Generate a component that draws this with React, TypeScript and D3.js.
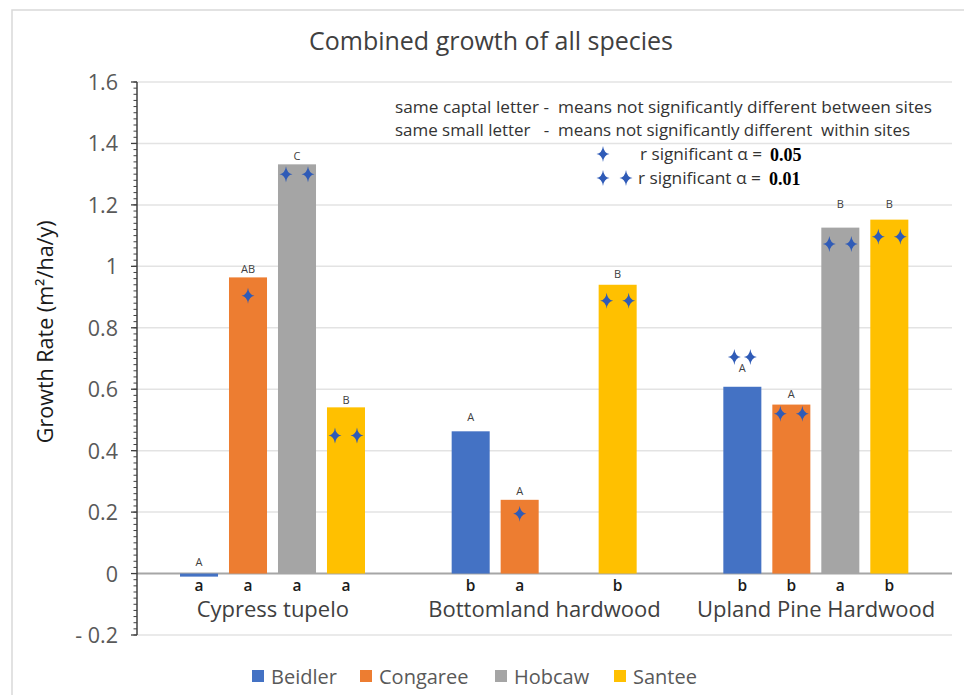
import React from "react";
import * as d3 from "d3";

const groups = ["Cypress tupelo", "Bottomland hardwood", "Upland Pine Hardwood"];
const sites = ["Beidler", "Congaree", "Hobcaw", "Santee"];
const colors = ["#4472c4", "#ed7d31", "#a5a5a5", "#ffc000"];

// values per site, by group
const beidler = [-0.01, 0.463, 0.608];
const congaree = [0.964, 0.24, 0.55];
const hobcaw: (number | null)[] = [1.332, null, 1.126];
const santee = [0.541, 0.94, 1.152];

// capital letters (between sites) per site, by group
const capBeidler = ["A", "A", "A"];
const capCongaree = ["AB", "A", "A"];
const capHobcaw = ["C", "", "B"];
const capSantee = ["B", "B", "B"];
// y-value where the capital letter sits
const capYBeidler = [0.037, 0.51, 0.668];
const capYCongaree = [0.992, 0.27, 0.585];
const capYHobcaw = [1.36, 0, 1.203];
const capYSantee = [0.566, 0.976, 1.203];

// small letters (within sites)
const smallBeidler = ["a", "b", "b"];
const smallCongaree = ["a", "a", "b"];
const smallHobcaw = ["a", "", "a"];
const smallSantee = ["a", "b", "b"];

// number of significance crosses and their y-value
const crossBeidler = [0, 0, 2];
const crossCongaree = [1, 1, 2];
const crossHobcaw = [2, 0, 2];
const crossSantee = [2, 2, 2];
const crossYBeidler = [0, 0, 0.705];
const crossYCongaree = [0.904, 0.195, 0.52];
const crossYHobcaw = [1.3, 0, 1.073];
const crossYSantee = [0.449, 0.888, 1.096];

const yTicks = [-0.2, 0, 0.2, 0.4, 0.6, 0.8, 1, 1.2, 1.4, 1.6];
const yTickLabels = ["- 0.2", "0", "0.2", "0.4", "0.6", "0.8", "1", "1.2", "1.4", "1.6"];

const values = [beidler, congaree, hobcaw, santee];
const caps = [capBeidler, capCongaree, capHobcaw, capSantee];
const capYs = [capYBeidler, capYCongaree, capYHobcaw, capYSantee];
const smalls = [smallBeidler, smallCongaree, smallHobcaw, smallSantee];
const crosses = [crossBeidler, crossCongaree, crossHobcaw, crossSantee];
const crossYs = [crossYBeidler, crossYCongaree, crossYHobcaw, crossYSantee];

const FONT = "'Open Sans', 'Noto Sans', sans-serif";
const SERIF = "'Liberation Serif', 'DejaVu Serif', serif";
const CROSS = "#2f5bb7";
const starPath = "M0,-8 Q0.9,-0.9 6.5,0 Q0.9,0.9 0,8 Q-0.9,0.9 -6.5,0 Q-0.9,-0.9 0,-8 Z";

const Star = ({ x, y }: { x: number; y: number }) => (
  <path d={starPath} transform={`translate(${x},${y})`} fill={CROSS} />
);

export default function App() {
  const W = 964, H = 695;
  const left = 137, right = 952;
  const y = d3.scaleLinear().domain([-0.2, 1.6]).range([635, 82]);
  const x0 = d3.scaleBand<string>().domain(groups).range([left, right]);
  const x1 = d3.scaleBand<string>().domain(sites).range([43, 228]).paddingInner(0.224);
  const bw = x1.bandwidth();
  const minor = d3.range(-0.2, 1.6001, 0.02);

  const legendX = [252, 360, 495, 614];

  return (
    <svg width={W} height={H} style={{ position: "absolute", left: 0, top: 0, background: "#fff" }}>
      <rect x={12} y={10} width={W} height={H} fill="#fff" stroke="#d9d9d9" strokeWidth={1.5} />
      <text x={491} y={50} textAnchor="middle" fontFamily={FONT} fontSize={25} fill="#404040">
        Combined growth of all species
      </text>

      {/* gridlines */}
      {yTicks.map((t) => (
        <line key={t} x1={left} x2={right} y1={y(t)} y2={y(t)}
          stroke={t === 0 ? "#a6a6a6" : "#e3e3e3"} strokeWidth={t === 0 ? 2 : 1.5} />
      ))}

      {/* axis */}
      <line x1={left} x2={left} y1={y(-0.2)} y2={y(1.6)} stroke="#404040" strokeWidth={1.5} />
      {minor.map((t, i) => (
        <line key={i} x1={left - 3.5} x2={left} y1={y(t)} y2={y(t)} stroke="#404040" strokeWidth={1} />
      ))}
      {yTicks.map((t) => (
        <line key={"m" + t} x1={left - 6} x2={left} y1={y(t)} y2={y(t)} stroke="#404040" strokeWidth={1.3} />
      ))}
      {yTicks.map((t, i) => (
        <text key={"l" + t} x={118} y={y(t) + 8} textAnchor="end" fontFamily={FONT} fontSize={21.5} fill="#595959">
          {yTickLabels[i]}
        </text>
      ))}
      <text transform={`translate(53,${y(0.8) + 4}) rotate(-90)`} textAnchor="middle" fontFamily={FONT}
        fontSize={21.5} fill="#1a1a1a">
        Growth Rate (m²/ha/y)
      </text>

      {/* bars */}
      {groups.map((g, gi) => (
        <g key={g} transform={`translate(${x0(g)},0)`}>
          {sites.map((s, si) => {
            const v = values[si][gi];
            if (v === null || v === undefined) return null;
            const bx = x1(s)!;
            const cx = bx + bw / 2;
            const n = crosses[si][gi];
            const spread = si === 0 && gi === 2 ? 8 : 11;
            return (
              <g key={s}>
                <rect x={bx} width={bw} y={Math.min(y(v), y(0))} height={Math.max(Math.abs(y(v) - y(0)), 2.5)}
                  fill={colors[si]} />
                {caps[si][gi] && (
                  <text x={cx} y={y(capYs[si][gi]) + 4} textAnchor="middle" fontFamily={FONT} fontSize={11}
                    fontWeight={500} fill="#404040">{caps[si][gi]}</text>
                )}
                {smalls[si][gi] && (
                  <text x={cx} y={y(0) + 17} textAnchor="middle" fontFamily={FONT} fontSize={15.5}
                    fontWeight={600} fill="#1a1a1a">{smalls[si][gi]}</text>
                )}
                {n === 1 && <Star x={cx} y={y(crossYs[si][gi])} />}
                {n === 2 && (
                  <>
                    <Star x={cx - spread} y={y(crossYs[si][gi])} />
                    <Star x={cx + spread} y={y(crossYs[si][gi])} />
                  </>
                )}
              </g>
            );
          })}
          <text x={x0.bandwidth() / 2} y={y(0) + 43} textAnchor="middle" fontFamily={FONT} fontSize={22}
            fill="#404040">{g}</text>
        </g>
      ))}

      {/* annotations */}
      <text x={395} y={113} fontFamily={FONT} fontSize={16.5} fill="#333" textLength={537} lengthAdjust="spacingAndGlyphs"
        style={{ whiteSpace: "pre" }}>
        {"same captal letter -  means not significantly different between sites"}
      </text>
      <text x={395} y={136} fontFamily={FONT} fontSize={16.5} fill="#333" textLength={515} lengthAdjust="spacingAndGlyphs"
        style={{ whiteSpace: "pre" }}>
        {"same small letter   -  means not significantly different  within sites"}
      </text>
      <Star x={603} y={154} />
      <text x={640} y={160} fontFamily={FONT} fontSize={16.5} fill="#333" textLength={122} lengthAdjust="spacingAndGlyphs">
        r significant α =
      </text>
      <text x={770} y={161} fontFamily={SERIF} fontWeight="bold" fontSize={18} fill="#000">0.05</text>
      <Star x={603} y={178} />
      <Star x={626} y={178} />
      <text x={638} y={184} fontFamily={FONT} fontSize={16.5} fill="#333" textLength={123} lengthAdjust="spacingAndGlyphs">
        r significant α =
      </text>
      <text x={769} y={185} fontFamily={SERIF} fontWeight="bold" fontSize={18} fill="#000">0.01</text>

      {/* legend */}
      {sites.map((s, i) => (
        <g key={s}>
          <rect x={legendX[i]} y={670} width={12} height={12} fill={colors[i]} />
          <text x={legendX[i] + 19} y={684} fontFamily={FONT} fontSize={20} fill="#595959">{s}</text>
        </g>
      ))}
    </svg>
  );
}
